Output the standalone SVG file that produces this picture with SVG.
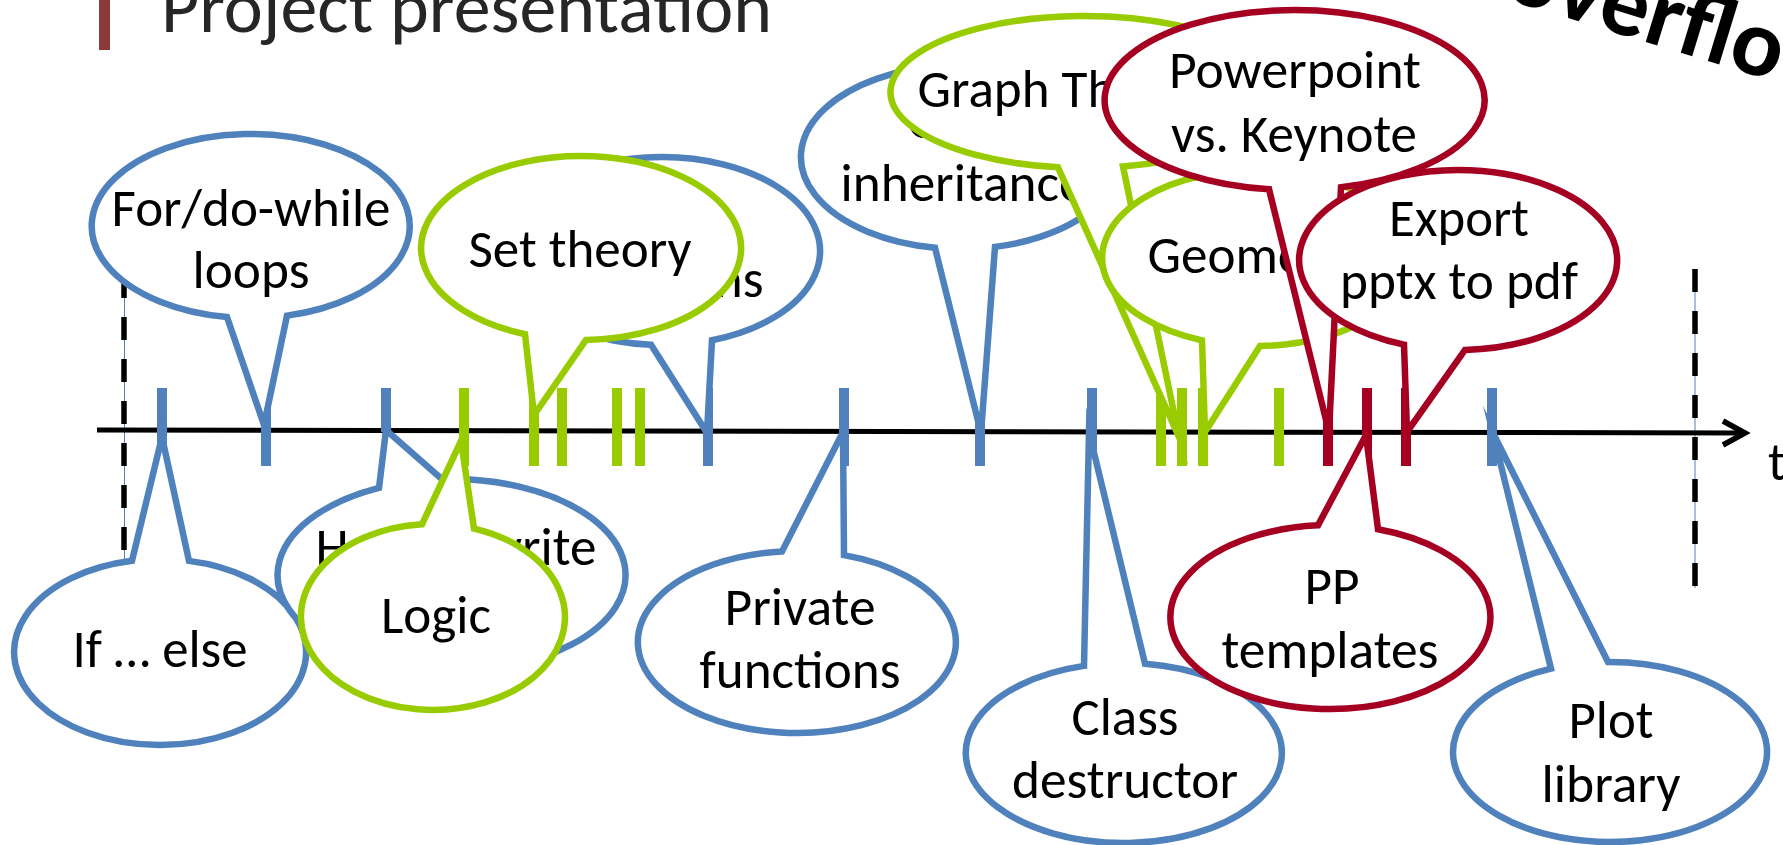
<svg xmlns="http://www.w3.org/2000/svg" width="1783" height="845" viewBox="0 0 1783 845">
<style>
.bub{fill:#fff;stroke-width:6.5;stroke-linejoin:miter;stroke-miterlimit:10}
.b{stroke:#4F81BD}.g{stroke:#99CC00}.r{stroke:#A50021}
.txt{font-family:Carlito,Lato,"Liberation Sans",sans-serif;font-size:53px;fill:#000;text-anchor:middle}
.tk{stroke-width:10;fill:none}
.tkb{stroke:#4F81BD}.tkg{stroke:#99CC00}.tkr{stroke:#A50021}
.dash{stroke:#000;stroke-width:5.5;stroke-dasharray:23 19;fill:none}
.thin{stroke:#4F81BD;stroke-width:1;fill:none}
</style>
<rect width="1783" height="845" fill="#fff"/>
<g id="title">
<rect x="99" y="0" width="11" height="50" fill="#8B3A3A"/>
<text x="161" y="32" font-family="Carlito,Lato,'Liberation Sans',sans-serif" font-size="74" fill="#262626" textLength="611" lengthAdjust="spacingAndGlyphs">Project presentation</text>
</g>
<g id="overflow">
<text transform="translate(1502,-2) rotate(17)" font-family="Carlito,Lato,'Liberation Sans',sans-serif" font-weight="bold" font-size="96" fill="#000" textLength="357" lengthAdjust="spacingAndGlyphs">overflow</text>
</g>
<g id="connectors">
<line class="thin" x1="124.5" y1="275" x2="124.5" y2="562"/>
<line class="dash" x1="124" y1="275" x2="124" y2="562"/>
<line class="thin" x1="1695" y1="269" x2="1695" y2="588"/>
<line class="dash" x1="1695" y1="269" x2="1695" y2="588"/>
<line x1="97" y1="430" x2="1745" y2="433" stroke="#000" stroke-width="5"/>
<polyline points="1723,421 1745,433 1723,445" fill="none" stroke="#000" stroke-width="5.5" stroke-linejoin="miter"/>
<g class="tk tkb">
<line x1="162" y1="388" x2="162" y2="466"/>
<line x1="266" y1="388" x2="266" y2="466"/>
<line x1="386" y1="388" x2="386" y2="432"/>
<line x1="708" y1="388" x2="708" y2="466"/>
<line x1="844" y1="388" x2="844" y2="466"/>
<line x1="980" y1="388" x2="980" y2="466"/>
<line x1="1092" y1="388" x2="1092" y2="466"/>
<line x1="1492" y1="388" x2="1492" y2="466"/>
</g>
<g class="tk tkg">
<line x1="464" y1="388" x2="464" y2="466"/>
<line x1="534" y1="388" x2="534" y2="466"/>
<line x1="562" y1="388" x2="562" y2="466"/>
<line x1="617" y1="388" x2="617" y2="466"/>
<line x1="640" y1="388" x2="640" y2="466"/>
<line x1="1161" y1="388" x2="1161" y2="466"/>
<line x1="1182" y1="388" x2="1182" y2="466"/>
<line x1="1203" y1="388" x2="1203" y2="466"/>
<line x1="1279" y1="388" x2="1279" y2="466"/>
</g>
<g class="tk tkr">
<line x1="1328" y1="388" x2="1328" y2="466"/>
<line x1="1367" y1="388" x2="1367" y2="466"/>
<line x1="1406" y1="388" x2="1406" y2="466"/>
</g>
</g>
<g id="t-label"><text class="txt" x="1768" y="480" style="text-anchor:start">t</text></g>

<g id="functions">
<path class="bub b" d="M651,344.8 A158,94 0 1 1 712,340.2 L707,433 Z"/>
<text class="txt" x="663" y="297" textLength="201" lengthAdjust="spacingAndGlyphs">functions</text>
</g>
<g id="class-inheritance">
<path class="bub b" d="M935,247.8 A160,92 0 1 1 995,246.9 L981,433 Z"/>
<text class="txt" x="961" y="138" textLength="107" lengthAdjust="spacingAndGlyphs">Class</text>
<text class="txt" x="963" y="201" textLength="245" lengthAdjust="spacingAndGlyphs">inheritance</text>
</g>
<g id="for-loops">
<path class="bub b" d="M227,317 A159,92 0 1 1 287,315.6 L264,425 Z"/>
<text class="txt" x="251" y="226" textLength="279" lengthAdjust="spacingAndGlyphs">For/do-while</text>
<text class="txt" x="251" y="288" textLength="117" lengthAdjust="spacingAndGlyphs">loops</text>
</g>
<g id="if-else">
<path class="bub b" d="M132,560.8 A146,93 0 1 0 189,560.9 L162,437 Z"/>
<text class="txt" x="160" y="667" textLength="175" lengthAdjust="spacingAndGlyphs">If … else</text>
</g>
<g id="how-to-write">
<path class="bub b" d="M379,487.8 A174,96 0 1 0 442,479.2 L386,430 Z"/>
<text class="txt" x="456" y="565" textLength="281" lengthAdjust="spacingAndGlyphs">How to write</text>
</g>
<g id="private-functions">
<path class="bub b" d="M782,551.4 A159,91 0 1 0 844,555.1 L843,432 Z"/>
<text class="txt" x="800" y="625" textLength="151" lengthAdjust="spacingAndGlyphs">Private</text>
<text class="txt" x="800" y="688" textLength="201" lengthAdjust="spacingAndGlyphs">functions</text>
</g>
<g id="class-destructor">
<path class="bub b" d="M1084,665.9 A158,90 0 1 0 1145,663.8 L1089,432 Z"/>
<text class="txt" x="1125" y="735" textLength="107" lengthAdjust="spacingAndGlyphs">Class</text>
<text class="txt" x="1125" y="798" textLength="226" lengthAdjust="spacingAndGlyphs">destructor</text>
</g>
<g id="plot-library">
<path class="bub b" d="M1551,668.6 A157,90 0 1 0 1608,662 L1493,433 Z"/>
<text class="txt" x="1611" y="738" textLength="85" lengthAdjust="spacingAndGlyphs">Plot</text>
<text class="txt" x="1611" y="802" textLength="139" lengthAdjust="spacingAndGlyphs">library</text>
</g>

<g id="set-theory">
<path class="bub g" d="M525,334.2 A160,92 0 1 1 586,340 L534,415 Z"/>
<text class="txt" x="580" y="267" textLength="223" lengthAdjust="spacingAndGlyphs">Set theory</text>
</g>
<g id="graph-theory">
<path class="bub g" d="M1058,167.3 A194,76 0 1 1 1123,166.5 L1179,437 Z"/>
<text class="txt" x="1065" y="107" textLength="295" lengthAdjust="spacingAndGlyphs">Graph Theory</text>
</g>
<g id="geometry">
<path class="bub g" d="M1202,340.4 A154,88 0 1 1 1260,346 L1205,432 Z"/>
<text class="txt" x="1256" y="273" textLength="217" lengthAdjust="spacingAndGlyphs">Geometry</text>
</g>
<g id="logic">
<path class="bub g" d="M422,524.3 A132,93 0 1 0 474,528.6 L461,441 Z"/>
<text class="txt" x="436" y="633" textLength="110" lengthAdjust="spacingAndGlyphs">Logic</text>
</g>

<g id="powerpoint-keynote">
<path class="bub r" d="M1269,189.2 A190,90 0 1 1 1341,187.3 L1329,432 Z"/>
<text class="txt" x="1295" y="88" textLength="252" lengthAdjust="spacingAndGlyphs">Powerpoint</text>
<text class="txt" x="1294" y="152" textLength="246" lengthAdjust="spacingAndGlyphs">vs. Keynote</text>
</g>
<g id="export-pdf">
<path class="bub r" d="M1404,344.6 A159,90 0 1 1 1465,349.9 L1407,432 Z"/>
<text class="txt" x="1459" y="236" textLength="140" lengthAdjust="spacingAndGlyphs">Export</text>
<text class="txt" x="1459" y="299" textLength="238" lengthAdjust="spacingAndGlyphs">pptx to pdf</text>
</g>
<g id="pp-templates">
<path class="bub r" d="M1318,525.3 A160,92 0 1 0 1378,529.2 L1366,435 Z"/>
<text class="txt" x="1332" y="604" textLength="55" lengthAdjust="spacingAndGlyphs">PP</text>
<text class="txt" x="1330" y="668" textLength="217" lengthAdjust="spacingAndGlyphs">templates</text>
</g>
</svg>
